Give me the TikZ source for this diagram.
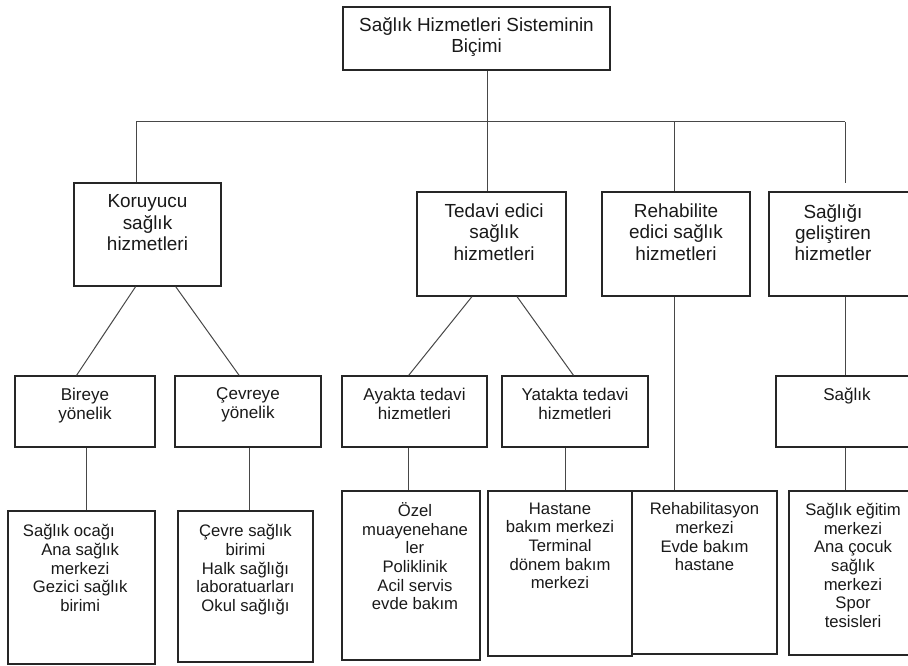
\documentclass[tikz,border=0pt]{standalone}
\usepackage{fontspec}
\setmainfont{Liberation Sans}
\usetikzlibrary{fit,calc}

\begin{document}
\begin{tikzpicture}[x=0.75pt,y=-0.75pt,
  box/.style={draw=black!85, line width=0.9pt, inner sep=0pt, fit={#1}},
  link/.style={draw=black!72, line width=0.75pt},
  txt/.style={anchor=north, inner sep=0pt, align=center, text=black!90, yshift=-9pt},
  big/.style={txt, font=\fontsize{14.2}{16}\selectfont},
  mid/.style={txt, font=\fontsize{12.8}{14.5}\selectfont},
  small/.style={txt, font=\fontsize{12.5}{14}\selectfont}
]
\useasboundingbox (0,0) rectangle (908,666);

% ---------- boxes ----------
\node[box={(343,7)(610,70)}] (root) {};
\node[box={(74,183)(221,286)}] (kor) {};
\node[box={(417,192)(566,296)}] (ted) {};
\node[box={(602,192)(750,296)}] (reh) {};
\node[box={(769,192)(930,296)}] (gel) {};

\node[box={(15,376)(155,447)}] (bir) {};
\node[box={(175,376)(321,447)}] (cev) {};
\node[box={(342,376)(487,447)}] (aya) {};
\node[box={(502,376)(648,447)}] (yat) {};
\node[box={(776,376)(932,447)}] (sag) {};

\node[box={(8,511)(155,664)}] (ocak) {};
\node[box={(178,511)(313,662)}] (cevb) {};
\node[box={(342,491)(480,660)}] (ozel) {};
\node[box={(488,491)(632,656)}] (hast) {};
\node[box={(632,491)(777,654)}] (rehb) {};
\node[box={(789,491)(932,655)}] (spor) {};

% ---------- texts ----------
\node[big, yshift=0.75pt] (rootT) at (root.north) {Sağlık Hizmetleri Sisteminin\\Biçimi};
\node[big] (korT) at (kor.north) {Koruyucu\\sağlık\\hizmetleri};
\node[big, xshift=2pt] (tedT) at (ted.north) {Tedavi edici\\sağlık\\hizmetleri};
\node[big] (rehT) at (reh.north) {Rehabilite\\edici sağlık\\hizmetleri};
\node[big] (gelT) at (833,192) {Sağlığı\\geliştiren\\hizmetler};

\node[mid] (birT) at (bir.north) {Bireye\\yönelik};
\node[mid] (cevT) at (cev.north) {Çevreye\\yönelik};
\node[mid] (ayaT) at (aya.north) {Ayakta tedavi\\hizmetleri};
\node[mid] (yatT) at (yat.north) {Yatakta tedavi\\hizmetleri};
\node[mid] (sagT) at (847,376) {Sağlık};

\node[small, yshift=-1.5pt] (ocakT) at ([xshift=-1pt]ocak.north)
  {Sağlık ocağı\hspace*{17pt}\\Ana sağlık\\merkezi\hspace*{6pt}\\Gezici sağlık\\birimi};
\node[small, yshift=-1.5pt] (cevbT) at (cevb.north)
  {Çevre sağlık\\birimi\\Halk sağlığı\\laboratuarları\\Okul sağlığı};
\node[small] (ozelT) at ([xshift=3pt]ozel.north)
  {Özel\\muayenehane\\ler\\Poliklinik\\Acil servis\\evde bakım};
\node[small] (hastT) at (hast.north)
  {Hastane\\bakım merkezi\\Terminal\\dönem bakım\\merkezi};
\node[small] (rehbT) at (rehb.north)
  {Rehabilitasyon\\merkezi\\Evde bakım\\hastane};
\node[small] (sporT) at (853,491)
  {Sağlık eğitim\\merkezi\\Ana çocuk\\sağlık\\merkezi\\Spor\\tesisleri};

% ---------- connectors ----------
\coordinate (busK) at (136,122);
\coordinate (busT) at (487,122);
\coordinate (busR) at (674,122);
\coordinate (busS) at (845,122);
\coordinate (gelEnd) at (845,183);

\draw[link] (busK) -- (busS);
\draw[link] (busT |- root.south) -- (busT);
\draw[link] (busK) -- (busK |- kor.north);
\draw[link] (busT) -- (busT |- ted.north);
\draw[link] (busR) -- (busR |- reh.north);
\draw[link] (busS) -- (gelEnd);

% diagonal branches
\draw[link] ($(kor.south west)!.42!(kor.south east)$) -- ($(bir.north west)!.44!(bir.north east)$);
\draw[link] ($(kor.south west)!.69!(kor.south east)$) -- ($(cev.north west)!.44!(cev.north east)$);
\draw[link] ($(ted.south west)!.37!(ted.south east)$) -- ($(aya.north west)!.46!(aya.north east)$);
\draw[link] ($(ted.south west)!.67!(ted.south east)$) -- ($(yat.north west)!.49!(yat.north east)$);

% vertical drops
\draw[link] (gel.south -| gelEnd) -- (sag.north -| gelEnd);
\draw[link] (reh.south -| busR) -- (rehb.north -| busR);
\draw[link] ($(bir.south west)!.514!(bir.south east)$) coordinate (v1) -- (v1 |- ocak.north);
\draw[link] ($(cev.south west)!.507!(cev.south east)$) coordinate (v2) -- (v2 |- cevb.north);
\draw[link] ($(aya.south west)!.462!(aya.south east)$) coordinate (v3) -- (v3 |- ozel.north);
\draw[link] ($(yat.south west)!.438!(yat.south east)$) coordinate (v4) -- (v4 |- hast.north);
\draw[link] (sag.south -| gelEnd) -- (spor.north -| gelEnd);
\end{tikzpicture}
\end{document}
